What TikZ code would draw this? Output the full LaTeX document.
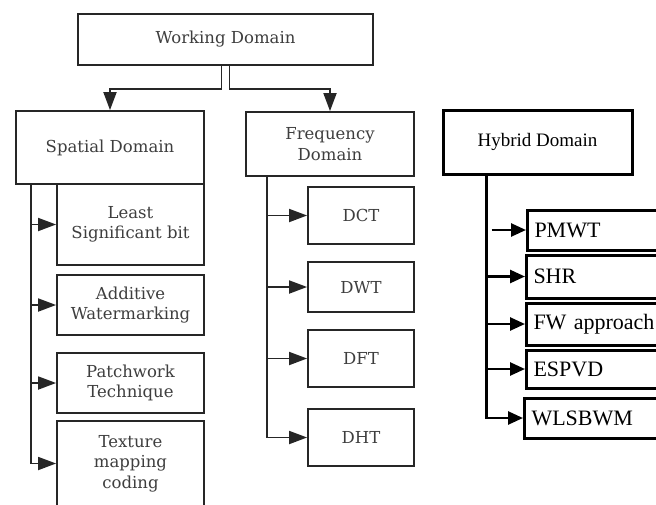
\documentclass[tikz,border=0pt]{standalone}
\usepackage{fontspec}
\setmainfont{DejaVu Serif}
\newfontfamily\timesfont{Liberation Serif}
\usetikzlibrary{arrows.meta,calc}

\definecolor{ink}{HTML}{262626}
\definecolor{txt}{HTML}{3E3E3E}

\tikzset{
  box/.style={draw=ink, line width=1.8pt, fill=white, align=center,
    text=txt, font=\fontsize{16.5}{20.5}\selectfont, inner sep=2pt},
  hbox/.style={draw=black, line width=3pt, fill=white, text=black,
    font=\timesfont\fontsize{19}{22}\selectfont, inner sep=2pt},
  leaf/.style={draw=black, line width=3pt, fill=white, text=black, anchor=west,
    font=\timesfont\fontsize{22}{24}\selectfont, align=left,
    text width=124pt, inner xsep=7pt, inner ysep=0pt},
  conn/.style={draw=ink, line width=1.8pt,
    -{Triangle[length=18pt,width=13pt]}},
  hconn/.style={draw=black, line width=2.6pt,
    -{Triangle[length=15pt,width=13pt]}},
}

\begin{document}
\begin{tikzpicture}[x=1pt,y=-1pt]
\useasboundingbox (0,0) rectangle (656,504);
\begin{scope}
\clip (0,0) rectangle (656,504);

% top level
\node[box, minimum width=295pt, minimum height=51pt] (wd) at (225.5,39.5)
  {\raisebox{3pt}{Working Domain}};

% second level
\node[box, minimum width=188pt, minimum height=73pt] (sd) at (110,147.5) {Spatial Domain};
\node[box, minimum width=168pt, minimum height=64pt] (fd) at (330,144) {Frequency\\Domain};
\node[hbox, minimum width=189pt, minimum height=64pt] (hd) at (537.5,142) {Hybrid Domain};

% spatial techniques
\node[box, minimum width=147pt, minimum height=81pt] (lsb) at (130.5,224.5) {Least\\Significant bit};
\node[box, minimum width=147pt, minimum height=60pt] (add) at (130.5,305) {Additive\\Watermarking};
\node[box, minimum width=147pt, minimum height=60pt] (pat) at (130.5,383) {Patchwork\\Technique};
\node[box, minimum width=147pt, minimum height=85pt] (tex) at (130.5,463.5) {Texture\\mapping\\coding};

% frequency techniques
\node[box, minimum width=106pt, minimum height=57pt] (dct) at (361,215.5) {DCT};
\node[box, minimum width=106pt, minimum height=50pt] (dwt) at (361,287) {DWT};
\node[box, minimum width=106pt, minimum height=57pt] (dft) at (361,358.5) {DFT};
\node[box, minimum width=106pt, minimum height=57pt] (dht) at (361,437.5) {DHT};

% hybrid techniques
\node[leaf, minimum height=40pt] (pmwt) at (526,230) {PMWT};
\node[leaf, minimum height=43pt] (shr) at (525,276.5) {SHR};
\node[leaf, minimum height=42pt] (fw) at (525,324) {FW approach};
\node[leaf, minimum height=38pt] (espvd) at (525,369) {ESPVD};
\node[leaf, minimum height=40pt] (wls) at (523,418) {WLSBWM};

% working domain to its two branches
\draw[conn] ([xshift=-4pt]wd.south) -- ++(0,23) -| (sd.north);
\draw[conn] ([xshift=4pt]wd.south) -- ++(0,23) -| (fd.north);

% spatial branch
\foreach \n in {lsb,add,pat,tex}
  \draw[conn] ([xshift=16pt]sd.south west) |- (\n.west);

% frequency branch
\foreach \n in {dct,dwt,dft,dht}
  \draw[conn] ([xshift=22pt]fd.south west) |- (\n.west);

% hybrid branch
\coordinate (hx) at ([xshift=45pt]hd.south west);
\foreach \n in {shr,fw,espvd,wls}
  \draw[hconn] (hx) |- (\n.west);
\draw[hconn] ($(hx |- pmwt.west)+(5,0)$) -- (pmwt.west);
\end{scope}
\end{tikzpicture}
\end{document}
